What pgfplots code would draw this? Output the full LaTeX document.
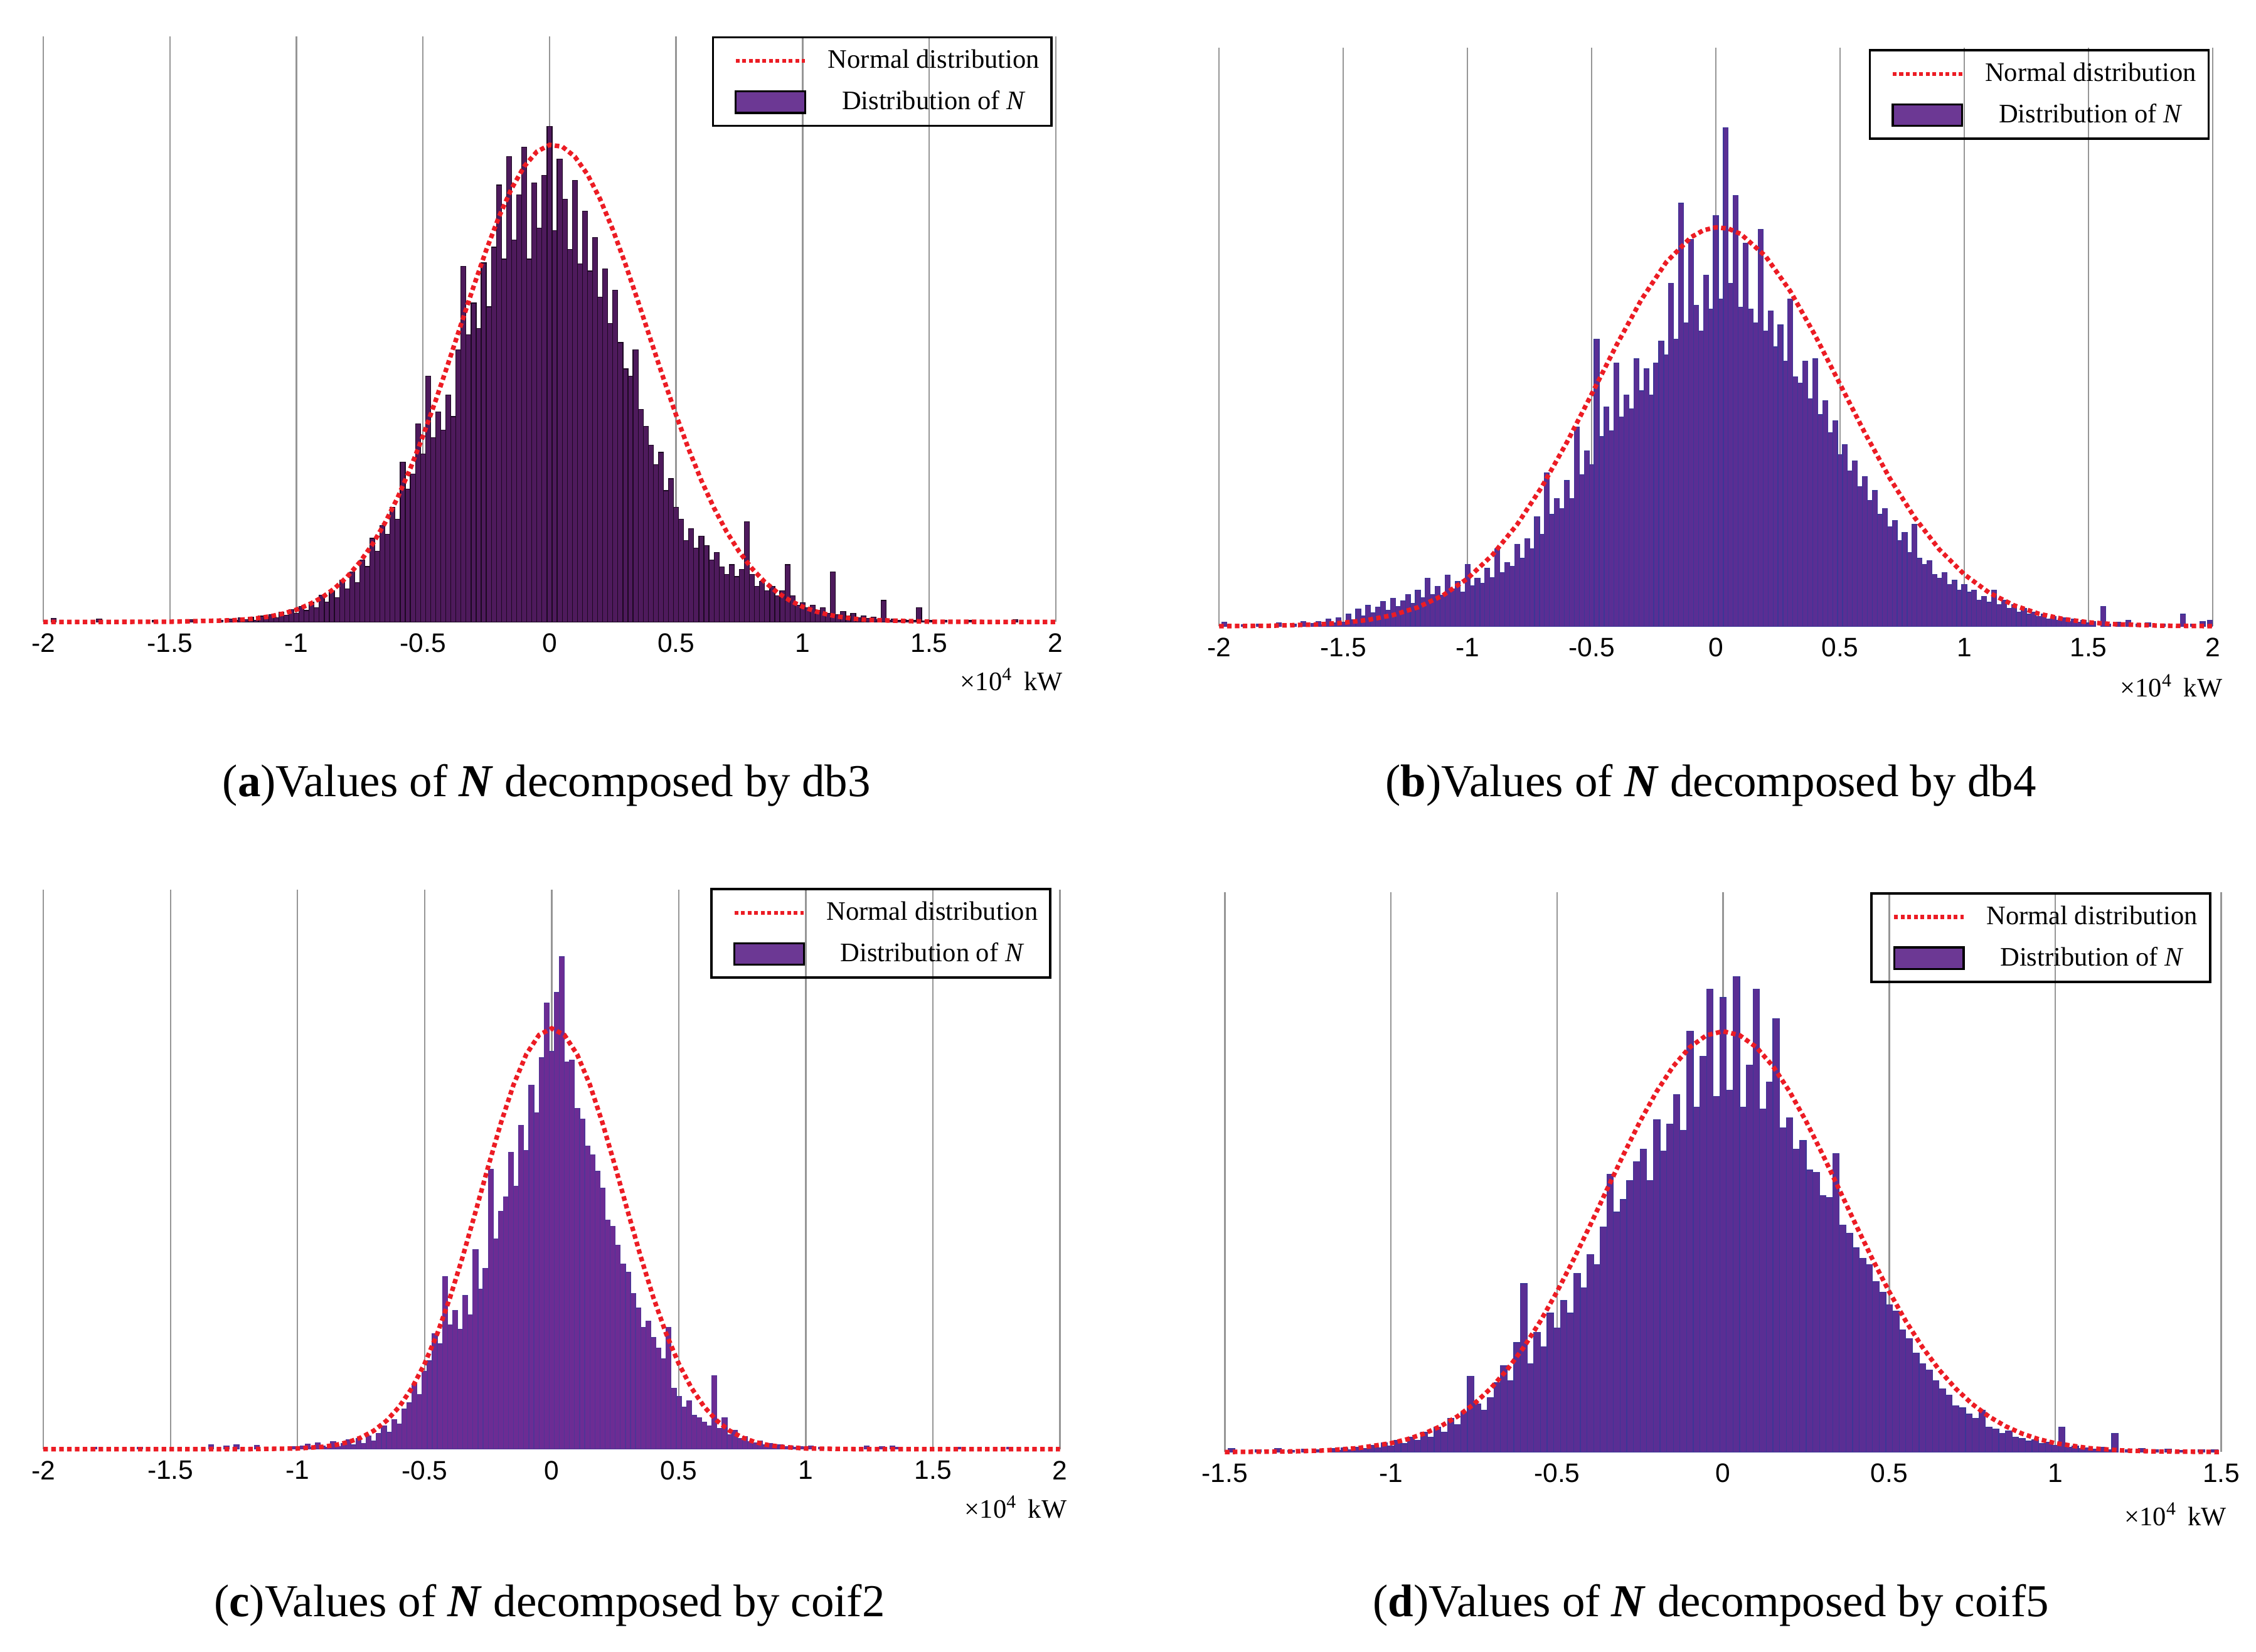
\documentclass[border=0pt]{standalone}
\usepackage{fontspec}
\setmainfont{Liberation Serif}
\newfontfamily\sansf{Liberation Sans}
\usepackage{pgfplots}
\pgfplotsset{compat=1.18}
\definecolor{normred}{RGB}{236,28,36}
\definecolor{barA}{RGB}{78,26,92}
\definecolor{edgeA}{RGB}{28,8,34}
\definecolor{barB}{RGB}{90,46,148}
\definecolor{edgeB}{RGB}{60,54,150}
\definecolor{barC}{RGB}{108,44,148}
\definecolor{edgeC}{RGB}{80,52,150}
\definecolor{legpurple}{RGB}{108,56,148}
\definecolor{gridgray}{RGB}{150,150,150}
\newcommand{\tickfont}{\sansf\fontsize{10.5}{12}\selectfont}
\newcommand{\legfont}{\fontsize{10.5}{12.5}\selectfont}
\newcommand{\capfont}{\fontsize{18}{21}\selectfont}
\newcommand{\unitfont}{\fontsize{10.5}{12}\selectfont}
\pgfplotsset{
  panel/.style={
    scale only axis, clip=false,
    axis line style={draw=none}, tick style={draw=none}, major tick length=0pt,
    ytick=\empty, ymin=0,
    xmajorgrids, grid style={draw=gridgray, line width=0.6pt},
    xticklabel style={font=\tickfont, yshift=-0.04cm},
    legend cell align=center,
    legend style={at={(1,1)}, anchor=north east, fill=none, draw=black, line width=0.9pt,
      font=\legfont, inner xsep=0.1cm, inner ysep=0.1cm, row sep=0.12cm,
      /tikz/every odd column/.append style={column sep=0.22cm}},
  },
  normcurve/.style={normred, line width=1.8pt, dash pattern=on 1.8pt off 1.3pt},
}
\newcommand{\legendentries}{%
  \addlegendimage{legend image code/.code={\path (0cm,0cm); \draw[normred, line width=1.5pt, dash pattern=on 1.5pt off 1.1pt] (0.2cm,0cm)--(1.16cm,0cm);}}
  \addlegendentry{Normal distribution}
  \addlegendimage{legend image code/.code={\path (0cm,0cm); \draw[fill=legpurple, draw=black, line width=0.8pt] (0.2cm,-0.15cm) rectangle (1.16cm,0.15cm);}}
  \addlegendentry{Distribution of \textit{N}}
}
\begin{document}
\begin{tikzpicture}
\path (0,0) rectangle (31.2,-22.84);
% ---------------- (a) ----------------
\begin{axis}[panel, at={(0.60cm,-8.60cm)}, anchor=south west, width=14.0cm, height=8.10cm,
  xmin=-2, xmax=2, ymax=122.7,
  xtick={-2,-1.5,-1,-0.5,0,0.5,1,1.5,2}, xticklabels={-2,-1.5,-1,-0.5,0,0.5,1,1.5,2},
  legend style={xshift=-0.04cm}]
\legendentries
\addplot[ybar, bar width=0.02, bar shift=0pt, fill=barA, draw=edgeA, line width=0.3pt, forget plot] coordinates {
(-1.96,0.8) (-1.78,0.6) (-1.56,0.3) (-1.42,0.5) (-1.30,0.4) (-1.26,0.6) (-1.24,0.3) (-1.22,0.9) (-1.20,0.5) (-1.18,1.0) (-1.16,0.4) (-1.14,1.2) (-1.12,0.8) (-1.10,1.5) (-1.08,0.9) (-1.06,2.0) (-1.04,1.4) (-1.02,2.6) (-1.00,1.8) (-0.98,3.2) (-0.96,2.4) (-0.94,4.1) (-0.92,3.0) (-0.90,5.6) (-0.88,4.2) (-0.86,6.5) (-0.84,5.1) (-0.82,8.8) (-0.80,6.9) (-0.78,10.5) (-0.76,8.2) (-0.74,13.0) (-0.72,11.6) (-0.70,17.5) (-0.68,14.8) (-0.66,20.2) (-0.64,18.4) (-0.62,24.0) (-0.60,21.5) (-0.58,33.5) (-0.56,27.8) (-0.54,31.0) (-0.52,41.5) (-0.50,35.2) (-0.48,51.5) (-0.46,38.6) (-0.44,44.0) (-0.42,40.2) (-0.40,47.5) (-0.38,43.0) (-0.36,57.0) (-0.34,74.5) (-0.32,60.2) (-0.30,66.8) (-0.28,61.5) (-0.26,75.2) (-0.24,66.0) (-0.22,78.5) (-0.20,91.5) (-0.18,76.0) (-0.16,97.5) (-0.14,80.0) (-0.12,89.5) (-0.10,99.5) (-0.08,76.0) (-0.06,92.0) (-0.04,82.5) (-0.02,93.5) (0.00,103.8) (0.02,82.0) (0.04,97.0) (0.06,88.5) (0.08,78.0) (0.10,92.5) (0.12,75.0) (0.14,86.0) (0.16,73.5) (0.18,80.5) (0.20,68.0) (0.22,74.0) (0.24,62.5) (0.26,69.5) (0.28,58.5) (0.30,53.0) (0.32,51.5) (0.34,57.0) (0.36,44.5) (0.38,41.0) (0.40,37.0) (0.42,33.0) (0.44,35.5) (0.46,27.5) (0.48,30.0) (0.50,24.0) (0.52,21.5) (0.54,17.0) (0.56,19.5) (0.58,15.5) (0.60,18.0) (0.62,16.0) (0.64,13.0) (0.66,14.5) (0.68,11.5) (0.70,10.0) (0.72,12.0) (0.74,9.5) (0.76,11.0) (0.78,21.0) (0.80,10.0) (0.82,7.5) (0.84,8.5) (0.86,6.5) (0.88,7.5) (0.90,5.5) (0.92,6.5) (0.94,12.0) (0.96,5.5) (0.98,3.5) (1.00,4.0) (1.02,3.0) (1.04,3.5) (1.06,2.5) (1.08,3.0) (1.10,1.8) (1.12,10.5) (1.14,1.5) (1.16,2.2) (1.18,1.2) (1.20,1.8) (1.22,0.9) (1.24,1.3) (1.26,0.7) (1.28,1.0) (1.30,0.5) (1.32,4.5) (1.34,0.4) (1.36,0.6) (1.38,0.3) (1.40,0.5) (1.42,0.3) (1.44,0.3) (1.46,3.0) (1.48,0.2) (1.50,0.3) (1.56,0.4) (1.66,0.3) (1.84,0.5)
};
\addplot[normcurve, forget plot] coordinates {
(-2,0) (-1.75,0.002) (-1.5,0.03) (-1.25,0.34) (-1.2,0.53) (-1.15,0.80) (-1.1,1.20) (-1.05,1.77) (-1,2.57) (-0.95,3.65) (-0.9,5.09) (-0.85,6.99) (-0.8,9.43) (-0.75,12.48) (-0.7,16.24) (-0.65,20.76) (-0.6,26.06) (-0.55,32.14) (-0.5,38.95) (-0.45,46.36) (-0.4,54.21) (-0.35,62.27) (-0.3,70.27) (-0.25,77.90) (-0.2,84.84) (-0.15,90.77) (-0.1,95.41) (-0.05,98.51) (0,99.92) (0.05,99.57) (0.1,97.46) (0.15,93.73) (0.2,88.54) (0.25,82.17) (0.3,74.92) (0.35,67.10) (0.4,59.04) (0.45,51.03) (0.5,43.33) (0.55,36.14) (0.6,29.61) (0.65,23.84) (0.7,18.86) (0.75,14.65) (0.8,11.18) (0.85,8.38) (0.9,6.17) (0.95,4.47) (1,3.18) (1.05,2.22) (1.1,1.52) (1.15,1.03) (1.2,0.68) (1.25,0.44) (1.5,0.04) (1.75,0.002) (2,0)
};
\end{axis}
% ---------------- (b) ----------------
\begin{axis}[panel, at={(16.86cm,-8.66cm)}, anchor=south west, width=13.74cm, height=8.0cm,
  xmin=-2, xmax=2, ymax=145,
  xtick={-2,-1.5,-1,-0.5,0,0.5,1,1.5,2}, xticklabels={-2,-1.5,-1,-0.5,0,0.5,1,1.5,2},
  legend style={xshift=-0.04cm, yshift=-0.02cm}]
\legendentries
\addplot[ybar, bar width=0.02, bar shift=0pt, fill=barB, draw=edgeB, line width=0.3pt, forget plot] coordinates {
(-1.98,1.0) (-1.90,0.4) (-1.84,0.6) (-1.76,0.8) (-1.70,0.5) (-1.66,1.2) (-1.62,0.7) (-1.60,1.2) (-1.58,0.4) (-1.56,1.8) (-1.54,0.8) (-1.52,2.2) (-1.50,1.0) (-1.48,3.0) (-1.46,1.6) (-1.44,4.4) (-1.42,2.6) (-1.40,5.2) (-1.38,3.4) (-1.36,4.8) (-1.34,6.2) (-1.32,4.0) (-1.30,7.0) (-1.28,5.0) (-1.26,6.4) (-1.24,8.0) (-1.22,5.8) (-1.20,9.0) (-1.18,7.2) (-1.16,12.0) (-1.14,8.0) (-1.12,10.0) (-1.10,7.8) (-1.08,12.8) (-1.06,9.4) (-1.04,11.2) (-1.02,8.6) (-1.00,15.5) (-0.98,10.2) (-0.96,12.0) (-0.94,10.8) (-0.92,14.5) (-0.90,12.2) (-0.88,19.5) (-0.86,13.5) (-0.84,16.0) (-0.82,15.0) (-0.80,20.5) (-0.78,17.0) (-0.76,22.0) (-0.74,19.5) (-0.72,27.5) (-0.70,23.0) (-0.68,38.5) (-0.66,28.0) (-0.64,32.0) (-0.62,29.5) (-0.60,36.5) (-0.58,32.0) (-0.56,50.0) (-0.54,38.0) (-0.52,44.0) (-0.50,40.5) (-0.48,72.0) (-0.46,47.5) (-0.44,55.0) (-0.42,49.0) (-0.40,66.0) (-0.38,52.5) (-0.36,58.0) (-0.34,54.5) (-0.32,67.0) (-0.30,59.0) (-0.28,64.5) (-0.26,58.0) (-0.24,66.0) (-0.22,71.5) (-0.20,68.0) (-0.18,86.0) (-0.16,72.0) (-0.14,106.0) (-0.12,76.0) (-0.10,97.0) (-0.08,80.5) (-0.06,74.0) (-0.04,88.0) (-0.02,79.5) (0.00,103.0) (0.02,82.0) (0.04,125.0) (0.06,86.0) (0.08,108.0) (0.10,80.0) (0.12,96.0) (0.14,79.5) (0.16,76.0) (0.18,99.5) (0.20,74.0) (0.22,79.0) (0.24,70.0) (0.26,75.5) (0.28,66.5) (0.30,82.0) (0.32,62.5) (0.34,61.0) (0.36,66.5) (0.38,57.0) (0.40,67.0) (0.42,53.0) (0.44,56.5) (0.46,48.5) (0.48,51.5) (0.50,43.0) (0.52,45.5) (0.54,39.0) (0.56,41.5) (0.58,35.0) (0.60,37.5) (0.62,31.5) (0.64,34.0) (0.66,28.0) (0.68,29.5) (0.70,25.0) (0.72,26.5) (0.74,21.5) (0.76,23.5) (0.78,18.5) (0.80,25.5) (0.82,17.0) (0.84,15.5) (0.86,16.5) (0.88,13.0) (0.90,12.0) (0.92,13.5) (0.94,10.5) (0.96,11.5) (0.98,9.0) (1.00,10.5) (1.02,8.5) (1.04,9.0) (1.06,6.5) (1.08,7.5) (1.10,6.0) (1.12,9.0) (1.14,5.5) (1.16,6.5) (1.18,4.5) (1.20,5.5) (1.22,3.5) (1.24,4.5) (1.26,3.0) (1.28,3.5) (1.30,2.5) (1.32,3.0) (1.34,1.8) (1.36,2.5) (1.38,1.5) (1.40,2.2) (1.42,1.2) (1.44,1.8) (1.46,1.0) (1.48,1.5) (1.50,0.8) (1.52,1.2) (1.56,5.0) (1.58,0.6) (1.62,1.0) (1.66,1.5) (1.70,0.5) (1.74,0.9) (1.80,0.6) (1.88,3.0) (1.92,0.5) (1.96,1.2) (1.99,1.5)
};
\addplot[normcurve, forget plot] coordinates {
(-2,0.02) (-1.8,0.11) (-1.6,0.45) (-1.5,0.87) (-1.4,1.59) (-1.3,2.80) (-1.2,4.74) (-1.1,7.69) (-1,11.95) (-0.9,17.83) (-0.8,25.51) (-0.7,35.00) (-0.6,46.08) (-0.5,58.18) (-0.4,70.47) (-0.3,81.86) (-0.2,91.23) (-0.1,97.51) (-0.05,99.25) (0,99.98) (0.05,99.67) (0.1,98.33) (0.2,92.76) (0.3,83.94) (0.4,72.85) (0.5,60.65) (0.6,48.44) (0.7,37.10) (0.8,27.26) (0.9,19.21) (1,12.99) (1.1,8.42) (1.2,5.24) (1.3,3.13) (1.4,1.79) (1.5,0.98) (1.6,0.52) (1.8,0.13) (2,0.02)
};
\end{axis}
% ---------------- (c) ----------------
\begin{axis}[panel, at={(0.60cm,-20.04cm)}, anchor=south west, width=14.06cm, height=7.74cm,
  xmin=-2, xmax=2, ymax=133,
  xtick={-2,-1.5,-1,-0.5,0,0.5,1,1.5,2}, xticklabels={-2,-1.5,-1,-0.5,0,0.5,1,1.5,2},
  legend style={xshift=-0.12cm, yshift=0.02cm}]
\legendentries
\addplot[ybar, bar width=0.02, bar shift=0pt, fill=barC, draw=edgeC, line width=0.3pt, forget plot] coordinates {
(-1.80,0.4) (-1.62,0.5) (-1.34,1.0) (-1.28,0.8) (-1.24,1.0) (-1.16,0.9) (-1.02,0.6) (-0.98,0.8) (-0.96,1.2) (-0.94,0.5) (-0.92,1.5) (-0.90,0.7) (-0.88,0.4) (-0.86,1.8) (-0.84,0.6) (-0.82,1.3) (-0.80,2.2) (-0.78,1.0) (-0.76,2.5) (-0.74,1.4) (-0.72,3.2) (-0.70,2.0) (-0.68,3.8) (-0.66,5.5) (-0.64,4.0) (-0.62,7.0) (-0.60,6.0) (-0.58,9.5) (-0.56,11.0) (-0.54,15.5) (-0.52,13.0) (-0.50,18.5) (-0.48,21.0) (-0.46,27.5) (-0.44,25.0) (-0.42,41.0) (-0.40,29.5) (-0.38,33.0) (-0.36,28.5) (-0.34,36.5) (-0.32,32.0) (-0.30,47.5) (-0.28,38.0) (-0.26,43.0) (-0.24,66.5) (-0.22,50.0) (-0.20,56.5) (-0.18,60.0) (-0.16,70.5) (-0.14,62.5) (-0.12,77.0) (-0.10,71.0) (-0.08,86.5) (-0.06,80.0) (-0.04,93.0) (-0.02,106.0) (0.00,94.5) (0.02,108.5) (0.04,117.0) (0.06,92.0) (0.08,92.5) (0.10,81.0) (0.12,78.5) (0.14,72.0) (0.16,70.0) (0.18,66.0) (0.20,62.0) (0.22,54.5) (0.24,53.0) (0.26,48.5) (0.28,44.0) (0.30,42.0) (0.32,37.0) (0.34,33.5) (0.36,29.0) (0.38,30.5) (0.40,26.5) (0.42,24.0) (0.44,21.5) (0.46,29.0) (0.48,14.5) (0.50,12.5) (0.52,10.0) (0.54,11.5) (0.56,8.0) (0.58,7.5) (0.60,6.5) (0.62,5.5) (0.64,17.5) (0.66,5.0) (0.68,7.5) (0.70,3.5) (0.72,4.5) (0.74,2.5) (0.76,3.0) (0.78,1.8) (0.80,1.5) (0.82,2.0) (0.84,1.0) (0.86,1.4) (0.88,0.8) (0.90,1.0) (0.92,0.6) (0.94,0.8) (0.96,0.5) (0.98,0.6) (1.00,0.4) (1.02,0.8) (1.06,0.5) (1.24,0.7) (1.30,0.6) (1.34,0.7) (1.36,0.5) (1.60,0.4) (1.80,0.5)
};
\addplot[normcurve, forget plot] coordinates {
(-2,0) (-1.5,0) (-1.2,0.01) (-1,0.17) (-0.9,0.57) (-0.85,1.00) (-0.8,1.69) (-0.75,2.77) (-0.7,4.39) (-0.65,6.76) (-0.6,10.07) (-0.55,14.53) (-0.5,20.30) (-0.45,27.49) (-0.4,36.04) (-0.35,45.79) (-0.3,56.33) (-0.25,67.13) (-0.2,77.48) (-0.15,86.63) (-0.1,93.82) (-0.05,98.42) (0,100) (0.05,98.42) (0.1,93.82) (0.15,86.63) (0.2,77.48) (0.25,67.13) (0.3,56.33) (0.35,45.79) (0.4,36.04) (0.45,27.49) (0.5,20.30) (0.55,14.53) (0.6,10.07) (0.65,6.76) (0.7,4.39) (0.75,2.77) (0.8,1.69) (0.85,1.00) (0.9,0.57) (1,0.17) (1.2,0.01) (1.5,0) (2,0)
};
\end{axis}
% ---------------- (d) ----------------
\begin{axis}[panel, at={(16.94cm,-20.08cm)}, anchor=south west, width=13.78cm, height=7.74cm,
  xmin=-1.5, xmax=1.5, ymax=133,
  xtick={-1.5,-1,-0.5,0,0.5,1,1.5}, xticklabels={-1.5,-1,-0.5,0,0.5,1,1.5},
  legend style={xshift=-0.14cm}]
\legendentries
\addplot[ybar, bar width=0.02, bar shift=0pt, fill=barB, draw=edgeB, line width=0.3pt, forget plot] coordinates {
(-1.48,0.8) (-1.40,0.5) (-1.34,0.9) (-1.30,0.4) (-1.26,0.7) (-1.22,0.5) (-1.18,0.8) (-1.16,0.4) (-1.14,1.0) (-1.12,0.6) (-1.10,1.2) (-1.08,0.8) (-1.06,1.6) (-1.04,1.0) (-1.02,2.2) (-1.00,1.5) (-0.98,2.8) (-0.96,2.0) (-0.94,3.5) (-0.92,2.8) (-0.90,4.8) (-0.88,3.6) (-0.86,6.0) (-0.84,4.8) (-0.82,8.0) (-0.80,6.5) (-0.78,9.5) (-0.76,18.0) (-0.74,11.5) (-0.72,10.0) (-0.70,13.0) (-0.68,16.5) (-0.66,20.5) (-0.64,17.0) (-0.62,26.0) (-0.60,40.0) (-0.58,21.0) (-0.56,28.5) (-0.54,25.0) (-0.52,33.0) (-0.50,29.5) (-0.48,36.0) (-0.46,33.0) (-0.44,42.5) (-0.42,39.0) (-0.40,47.0) (-0.38,44.5) (-0.36,53.5) (-0.34,66.0) (-0.32,57.0) (-0.30,60.0) (-0.28,64.5) (-0.26,69.0) (-0.24,72.0) (-0.22,64.5) (-0.20,79.0) (-0.18,71.5) (-0.16,78.0) (-0.14,85.0) (-0.12,76.5) (-0.10,100.0) (-0.08,82.0) (-0.06,94.0) (-0.04,110.0) (-0.02,84.5) (0.00,108.0) (0.02,86.0) (0.04,113.0) (0.06,82.0) (0.08,92.0) (0.10,110.0) (0.12,81.5) (0.14,88.0) (0.16,103.0) (0.18,77.0) (0.20,79.5) (0.22,72.0) (0.24,74.0) (0.26,67.0) (0.28,66.5) (0.30,61.0) (0.32,60.5) (0.34,71.0) (0.36,54.0) (0.38,52.0) (0.40,48.5) (0.42,46.0) (0.44,44.5) (0.46,40.5) (0.48,38.0) (0.50,35.0) (0.52,33.5) (0.54,29.0) (0.56,27.0) (0.58,23.5) (0.60,21.0) (0.62,19.5) (0.64,17.0) (0.66,15.0) (0.68,13.5) (0.70,11.0) (0.72,10.5) (0.74,9.0) (0.76,8.0) (0.78,10.0) (0.80,6.0) (0.82,5.5) (0.84,4.5) (0.86,5.0) (0.88,3.5) (0.90,3.2) (0.92,2.6) (0.94,3.0) (0.96,2.0) (0.98,2.4) (1.00,1.6) (1.02,6.0) (1.04,1.2) (1.06,1.5) (1.08,0.9) (1.10,1.0) (1.12,0.7) (1.14,1.2) (1.16,0.5) (1.18,4.5) (1.22,0.6) (1.26,0.8) (1.30,0.5) (1.34,0.7) (1.38,0.4) (1.44,0.6) (1.48,0.5)
};
\addplot[normcurve, forget plot] coordinates {
(-1.5,0.02) (-1.3,0.15) (-1.2,0.39) (-1.1,0.94) (-1,2.11) (-0.95,3.07) (-0.9,4.39) (-0.85,6.16) (-0.8,8.47) (-0.75,11.42) (-0.7,15.10) (-0.65,19.59) (-0.6,24.94) (-0.55,31.13) (-0.5,38.12) (-0.45,45.79) (-0.4,53.94) (-0.35,62.34) (-0.3,70.67) (-0.25,78.58) (-0.2,85.70) (-0.15,91.69) (-0.1,96.22) (-0.05,99.04) (0,100) (0.05,99.04) (0.1,96.22) (0.15,91.69) (0.2,85.70) (0.25,78.58) (0.3,70.67) (0.35,62.34) (0.4,53.94) (0.45,45.79) (0.5,38.12) (0.55,31.13) (0.6,24.94) (0.65,19.59) (0.7,15.10) (0.75,11.42) (0.8,8.47) (0.85,6.16) (0.9,4.39) (0.95,3.07) (1,2.11) (1.1,0.94) (1.2,0.39) (1.3,0.15) (1.5,0.02)
};
\end{axis}
% unit labels
\node[anchor=east, font=\unitfont, inner sep=0pt] at (14.70,-9.40) {×10\textsuperscript{4}\, kW};
\node[anchor=east, font=\unitfont, inner sep=0pt] at (30.74,-9.48) {×10\textsuperscript{4}\, kW};
\node[anchor=east, font=\unitfont, inner sep=0pt] at (14.76,-20.84) {×10\textsuperscript{4}\, kW};
\node[anchor=east, font=\unitfont, inner sep=0pt] at (30.80,-20.94) {×10\textsuperscript{4}\, kW};
% captions
\node[font=\capfont, inner sep=0pt] at (7.56,-10.86) {(\textbf{a})Values of \textbf{\textit{N}} decomposed by db3};
\node[font=\capfont, inner sep=0pt] at (23.66,-10.86) {(\textbf{b})Values of \textbf{\textit{N}} decomposed by db4};
\node[font=\capfont, inner sep=0pt] at (7.60,-22.20) {(\textbf{c})Values of \textbf{\textit{N}} decomposed by coif2};
\node[font=\capfont, inner sep=0pt] at (23.66,-22.20) {(\textbf{d})Values of \textbf{\textit{N}} decomposed by coif5};
\end{tikzpicture}
\end{document}
